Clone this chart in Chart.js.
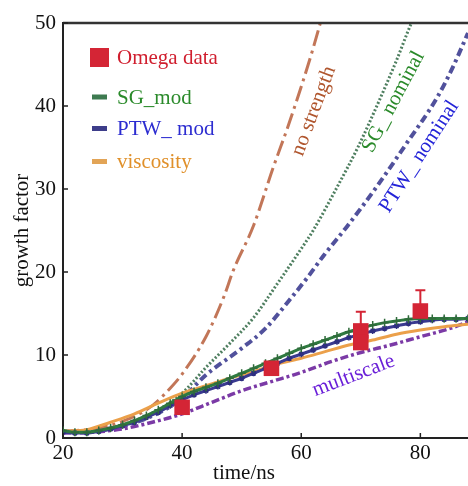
<!DOCTYPE html>
<html>
<head>
<meta charset="utf-8">
<script src="https://cdn.jsdelivr.net/npm/chart.js@4.4.1/dist/chart.umd.min.js"></script>
<style>
  html, body { margin: 0; padding: 0; background: #fff; }
  #wrap { width: 468px; height: 486px; }
</style>
</head>
<body>
<div id="wrap"><canvas id="growthChart" width="468" height="486"></canvas></div>
<script>
// axis ticks
const xTicks = [20, 40, 60, 80];
const yTicks = [0, 10, 20, 30, 40, 50];

// Omega data (two shots at 70 ns)
const omegaTime = [40, 55, 70, 70, 80];
const omegaGrowth = [3.7, 8.4, 12.9, 11.5, 15.3];
const omegaUpper = [null, null, 15.2, null, 17.8];

// modified strength models
const modTime = [20, 22, 24, 26, 28, 30, 32, 34, 36, 38, 40, 42, 44, 46, 48, 50, 52, 54,
  56, 58, 60, 62, 64, 66, 68, 70, 72, 74, 76, 78, 80, 82, 84, 86, 88];
const sgMod = [0.9, 0.7, 0.7, 0.9, 1.2, 1.6, 2.1, 2.7, 3.4, 4.2, 5.0, 5.6, 6.1, 6.6, 7.2, 7.8, 8.4, 9.0,
  9.6, 10.2, 10.8, 11.3, 11.8, 12.3, 12.8, 13.2, 13.6, 13.9, 14.1, 14.3, 14.4, 14.4, 14.4, 14.4, 14.4];
const ptwMod = [0.7, 0.6, 0.6, 0.8, 1.1, 1.5, 1.9, 2.5, 3.1, 3.9, 4.6, 5.2, 5.7, 6.2, 6.7, 7.2, 7.8, 8.4,
  9.0, 9.6, 10.1, 10.6, 11.1, 11.6, 12.1, 12.5, 12.9, 13.2, 13.5, 13.8, 14.0, 14.2, 14.3, 14.3, 14.4];

const viscTime = [20, 24, 28, 32, 36, 40, 44, 48, 52, 56, 60, 64, 68, 72, 76, 80, 84, 88];
const viscosity = [0.8, 1.0, 1.9, 2.9, 4.2, 5.4, 6.3, 7.2, 8.0, 8.9, 9.6, 10.4, 11.2, 11.8, 12.5, 13.0, 13.4, 13.7];

const multiTime = [20, 25, 30, 35, 40, 45, 50, 55, 60, 65, 70, 75, 80, 85, 88];
const multiscale = [0.6, 0.7, 1.1, 1.9, 2.9, 4.3, 5.7, 6.8, 7.9, 9.2, 10.3, 11.2, 12.2, 13.2, 14.0];

// nominal models
const noStrTime = [20, 25, 30, 35, 38, 40, 44, 47, 48.6, 52, 55.3, 58, 61.6, 63.6];
const noStrength = [0.8, 1.1, 2.0, 3.9, 6.0, 7.7, 12.2, 17.0, 20.2, 25.6, 32.6, 38.0, 46.0, 51.0];

const sgNomTime = [20, 25, 30, 36, 40, 44, 48, 52, 56, 60, 62, 66, 69.5, 73, 76, 78.5, 79.2];
const sgNominal = [0.8, 0.9, 1.6, 3.4, 5.4, 8.5, 11.4, 14.5, 18.6, 22.8, 25.0, 30.2, 35.0, 40.5, 45.5, 50.0, 51.0];

const ptwNomTime = [20, 25, 30, 36, 40, 44, 50, 54, 58, 61, 64, 67.6, 72.6, 77.6, 82.8, 85.4, 88];
const ptwNominal = [0.7, 0.8, 1.4, 3.0, 4.8, 7.6, 10.8, 13.2, 16.6, 19.3, 22.2, 25.4, 30.2, 35.4, 41.0, 44.6, 48.8];

const serif = "'Liberation Serif', 'DejaVu Serif', serif";
Chart.defaults.font.family = serif;
Chart.defaults.font.size = 21;
Chart.defaults.color = '#111';

const pts = (xs, ys) => xs.map((x, i) => ({ x: x, y: ys[i] }));

// legend entries drawn inside the plot
const legendRows = [
  { text: 'Omega data', color: '#d01e2e', swatch: '#d42535', big: true, dy: 34.5 },
  { text: 'SG_mod', color: '#2a8a2a', swatch: '#3d7a50', dy: 74 },
  { text: 'PTW_ mod', color: '#2c2cd0', swatch: '#3d3d8a', dy: 105.5 },
  { text: 'viscosity', color: '#e0902a', swatch: '#e2a456', dy: 138.5 }
];

// text written along the curves
const curveNotes = [
  { text: 'no strength', x: 62.1, y: 39.4, angle: -69.5, color: '#b0562e' },
  { text: 'SG_ nominal', x: 75.5, y: 40.5, angle: -62, color: '#2a8a2a' },
  { text: 'PTW_ nominal', x: 79.8, y: 33.9, angle: -57, color: '#2424d8' },
  { text: 'multiscale', x: 68.8, y: 7.5, angle: -21, color: '#6a1fd8' }
];

const decorPlugin = {
  id: 'decor',
  afterDatasetsDraw(chart) {
    const { ctx, scales } = chart;
    const xs = scales.x, ys = scales.y;
    ctx.save();
    // error whiskers on Omega points
    ctx.strokeStyle = '#d42535';
    ctx.lineWidth = 2;
    omegaTime.forEach((t, i) => {
      if (omegaUpper[i] == null) return;
      const px = xs.getPixelForValue(t);
      const top = ys.getPixelForValue(omegaUpper[i]);
      const base = ys.getPixelForValue(omegaGrowth[i]);
      ctx.beginPath();
      ctx.moveTo(px, base);
      ctx.lineTo(px, top);
      ctx.moveTo(px - 5, top);
      ctx.lineTo(px + 5, top);
      ctx.stroke();
    });
    // labels along curves
    ctx.font = '21px ' + serif;
    ctx.textAlign = 'center';
    ctx.textBaseline = 'middle';
    curveNotes.forEach(n => {
      ctx.save();
      ctx.translate(xs.getPixelForValue(n.x), ys.getPixelForValue(n.y));
      ctx.rotate(n.angle * Math.PI / 180);
      ctx.fillStyle = n.color;
      ctx.fillText(n.text, 0, 0);
      ctx.restore();
    });
    ctx.restore();
  },
  afterDraw(chart) {
    const { ctx, chartArea, scales } = chart;
    const xs = scales.x, ys = scales.y;
    ctx.save();
    // top frame
    ctx.strokeStyle = '#333';
    ctx.lineWidth = 2.5;
    ctx.beginPath();
    ctx.moveTo(chartArea.left, chartArea.top);
    ctx.lineTo(chartArea.right, chartArea.top);
    ctx.stroke();
    // inward tick marks
    ctx.lineWidth = 1.5;
    ctx.strokeStyle = '#222';
    ctx.beginPath();
    yTicks.forEach(v => {
      const p = ys.getPixelForValue(v);
      ctx.moveTo(chartArea.left, p);
      ctx.lineTo(chartArea.left + 5, p);
    });
    xTicks.forEach(v => {
      const p = xs.getPixelForValue(v);
      ctx.moveTo(p, chartArea.bottom);
      ctx.lineTo(p, chartArea.bottom - 5);
    });
    ctx.stroke();
    // legend
    ctx.font = '21px ' + serif;
    ctx.textAlign = 'left';
    ctx.textBaseline = 'middle';
    legendRows.forEach(r => {
      const cy = chartArea.top + r.dy;
      const cx = chartArea.left + 36.5;
      ctx.fillStyle = r.swatch;
      if (r.big) ctx.fillRect(cx - 9.5, cy - 9.5, 19, 19);
      else ctx.fillRect(cx - 7.5, cy - 2.5, 15, 5);
      ctx.fillStyle = r.color;
      ctx.fillText(r.text, chartArea.left + 54, cy + 1);
    });
    // axis titles
    ctx.fillStyle = '#111';
    ctx.textAlign = 'center';
    ctx.fillText('time/ns', chartArea.left + 181, 473);
    ctx.save();
    ctx.translate(22, (chartArea.top + chartArea.bottom) / 2);
    ctx.rotate(-Math.PI / 2);
    ctx.fillText('growth factor', 0, 0);
    ctx.restore();
    ctx.restore();
  }
};

new Chart(document.getElementById('growthChart'), {
  type: 'line',
  data: {
    datasets: [
      {
        label: 'Omega data',
        data: pts(omegaTime, omegaGrowth),
        showLine: false,
        pointStyle: 'rect',
        pointRadius: 11,
        backgroundColor: '#d42535',
        borderColor: '#d42535',
        borderWidth: 0
      },
      {
        label: 'SG_mod',
        data: pts(modTime, sgMod),
        borderColor: '#2f7a40',
        borderWidth: 3,
        pointStyle: 'cross',
        pointRadius: 4,
        pointBorderWidth: 1.5,
        pointBorderColor: '#2f6a3a',
        cubicInterpolationMode: 'monotone'
      },
      {
        label: 'PTW_ mod',
        data: pts(modTime, ptwMod),
        borderColor: '#3a3a90',
        borderWidth: 3,
        pointStyle: 'star',
        pointRadius: 3,
        pointBorderWidth: 1.5,
        pointBorderColor: '#2e2e80',
        cubicInterpolationMode: 'monotone'
      },
      {
        label: 'viscosity',
        data: pts(viscTime, viscosity),
        borderColor: '#eba04a',
        borderWidth: 3,
        pointRadius: 0,
        cubicInterpolationMode: 'monotone'
      },
      {
        label: 'multiscale',
        data: pts(multiTime, multiscale),
        borderColor: '#7b3aa6',
        borderWidth: 3.5,
        borderDash: [8, 3, 3, 3],
        pointRadius: 0,
        cubicInterpolationMode: 'monotone'
      },
      {
        label: 'no strength',
        data: pts(noStrTime, noStrength),
        borderColor: '#c27658',
        borderWidth: 3,
        borderDash: [16, 5, 3, 5],
        pointRadius: 0,
        cubicInterpolationMode: 'monotone'
      },
      {
        label: 'SG_ nominal',
        data: pts(sgNomTime, sgNominal),
        borderColor: '#4f7f60',
        borderWidth: 3,
        borderDash: [2, 2],
        pointRadius: 0,
        cubicInterpolationMode: 'monotone'
      },
      {
        label: 'PTW_ nominal',
        data: pts(ptwNomTime, ptwNominal),
        borderColor: '#51519c',
        borderWidth: 4,
        borderDash: [8, 4, 3, 4],
        pointRadius: 0,
        cubicInterpolationMode: 'monotone'
      }
    ]
  },
  options: {
    responsive: false,
    animation: false,
    layout: { autoPadding: false, padding: { top: 23, right: 0, bottom: 0, left: 0 } },
    plugins: {
      legend: { display: false },
      tooltip: { enabled: false }
    },
    scales: {
      x: {
        type: 'linear',
        min: 20,
        max: 88,
        afterFit: s => { s.height = 48; s.paddingLeft = 0; s.paddingRight = 0; },
        afterBuildTicks: s => { s.ticks = xTicks.map(v => ({ value: v })); },
        grid: { display: false, drawTicks: false },
        border: { display: true, color: '#222', width: 2 },
        ticks: { padding: 3, color: '#111', font: { size: 21 } }
      },
      y: {
        type: 'linear',
        min: 0,
        max: 50,
        afterFit: s => { s.width = 63; s.paddingTop = 0; s.paddingBottom = 0; },
        afterBuildTicks: s => { s.ticks = yTicks.map(v => ({ value: v })); },
        grid: { display: false, drawTicks: false },
        border: { display: true, color: '#222', width: 2 },
        ticks: { padding: 7, color: '#111', font: { size: 21 } }
      }
    }
  },
  plugins: [decorPlugin]
});
</script>
</body>
</html>
